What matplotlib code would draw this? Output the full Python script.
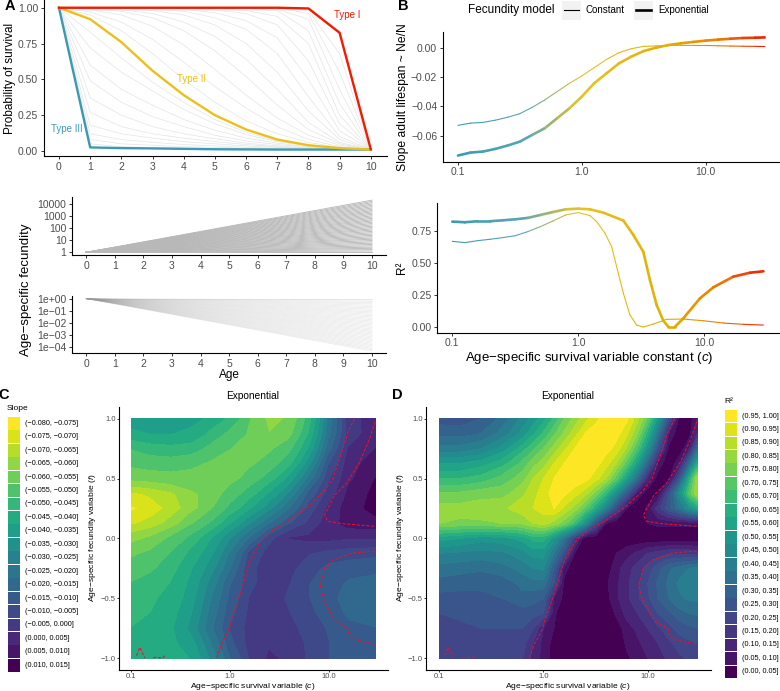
import numpy as np
import matplotlib
matplotlib.use("Agg")
import matplotlib.pyplot as plt
from matplotlib.collections import LineCollection
from matplotlib.colors import LinearSegmentedColormap
from matplotlib.patches import Rectangle

plt.rcParams['font.family'] = ['Liberation Sans', 'DejaVu Sans']
plt.rcParams['mathtext.fontset'] = 'custom'
plt.rcParams['mathtext.it'] = 'Liberation Sans:italic'
plt.rcParams['mathtext.rm'] = 'Liberation Sans'

W, H = 780, 691
TICK = '#4D4D4D'
TEAL, GOLD, RED = '#3B9AB2', '#EBC01A', '#F21A00'

# panel A, survival
ages = list(range(11))
type_1 = [1, 1, 1, 1, 1, 1, 1, 1, .995, .825, .012]
type_2 = [1, .92, .76, .56, .39, .25, .15, .08, .04, .02, .01]
type_3 = [1, .025, .02, .018, .015, .012, .011, .01, .01, .01, .01]
grey_curves = [
    [1, .05, .03, .025, .02, .018, .015, .012, .011, .01, .01],
    [1, .08, .05, .04, .03, .025, .02, .016, .013, .011, .01],
    [1, .12, .08, .06, .045, .035, .025, .02, .015, .012, .01],
    [1, .18, .12, .09, .065, .05, .035, .025, .018, .013, .01],
    [1, .27, .17, .12, .09, .065, .045, .03, .02, .014, .01],
    [1, .37, .25, .17, .12, .085, .055, .035, .022, .015, .01],
    [1, .49, .34, .24, .17, .11, .07, .045, .027, .016, .01],
    [1, .60, .43, .32, .22, .145, .09, .055, .03, .017, .01],
    [1, .72, .55, .42, .29, .19, .115, .065, .035, .018, .01],
    [1, .83, .65, .48, .34, .22, .13, .07, .038, .019, .01],
    [1, .95, .84, .68, .5, .34, .21, .12, .06, .025, .01],
    [1, .97, .9, .78, .62, .45, .3, .17, .08, .03, .01],
    [1, .985, .95, .87, .74, .57, .39, .23, .11, .04, .01],
    [1, .99, .975, .93, .84, .7, .52, .32, .15, .05, .01],
    [1, .995, .985, .96, .9, .8, .64, .43, .2, .06, .01],
    [1, 1, .995, .98, .95, .88, .75, .55, .28, .08, .01],
    [1, 1, 1, .99, .975, .93, .85, .68, .38, .1, .01],
    [1, 1, 1, .995, .99, .965, .91, .79, .5, .14, .01],
    [1, 1, 1, 1, .995, .985, .96, .88, .63, .19, .01],
    [1, 1, 1, 1, 1, .995, .98, .94, .75, .25, .01],
    [1, 1, 1, 1, 1, 1, .995, .98, .84, .33, .01],
    [1, 1, 1, 1, 1, 1, 1, .99, .92, .43, .01],
    [1, 1, 1, 1, 1, 1, 1, 1, .96, .55, .01],
    [1, 1, 1, 1, 1, 1, 1, 1, .98, .68, .01],
]

# panel A, fecundity: log10 of the value reached at age 10
fec_age = [0, 10]
fec_ends = [0, .11, .22, .33, .43, .54, .65, .76, .87, .98, 1.09, 1.19, 1.30, 1.41,
            1.52, 1.63, 1.74, 1.85, 1.95, 2.06, 2.17, 2.28, 2.39, 2.50, 2.61, 2.71,
            2.82, 2.93, 3.04, 3.15, 3.26, 3.37, 3.47, 3.58, 3.69, 3.80, 3.91, 4.02,
            4.13, 4.23, 4.34]

# panel B
log_c = [-1, -.9, -.8, -.7, -.6, -.5, -.4, -.3, -.2, -.1, 0, .1, .2, .3, .4, .5,
         .6, .7, .8, .9, 1.0, 1.1, 1.2, 1.3, 1.4, 1.477]
slope_const = [-.0530, -.0515, -.0510, -.0495, -.0475, -.0450, -.0407, -.0357, -.0300,
               -.0243, -.0193, -.0136, -.0080, -.0034, -.0007, .0009, .0012, .0015,
               .0016, .0015, .0015, .0013, .0011, .0010, .0009, .0008]
slope_exp = [-.0736, -.0716, -.0709, -.0691, -.0668, -.0641, -.0595, -.0550, -.0482,
             -.0414, -.0334, -.0243, -.0175, -.0107, -.0061, -.0023, 0, .0018, .0030,
             .0039, .0048, .0055, .0061, .0066, .0068, .0070]
r2c_logc = [-1, -.9, -.8, -.7, -.6, -.5, -.4, -.3, -.2, -.1, 0, .093, .146, .212, .265, .318,
            .358, .41, .463, .516, .596, .701, .834, .992, 1.151, 1.31, 1.469]
r2_const = [.669, .659, .674, .685, .698, .713, .745, .784, .828, .875, .893, .870, .823, .732,
            .627, .419, .263, .094, .015, .000, .023, .060, .062, .049, .031, .021, .015]
r2e_logc = [-1, -.9, -.8, -.7, -.6, -.5, -.4, -.3, -.2, -.1, 0, .093, .199, .358, .437, .516,
            .569, .622, .675, .715, .768, .834, .966, 1.072, 1.23, 1.363, 1.469]
r2_exp = [.823, .818, .826, .826, .833, .841, .852, .875, .898, .919, .924, .919, .893, .831,
          .719, .588, .367, .172, .049, .002, .002, .068, .224, .310, .393, .424, .435]

# panels C and D, read on these grids
grid_logc = [-1, -.8, -.6, -.4, -.2, 0, .2, .4, .6, .8, 1.0, 1.2, 1.477]
grid_f = [1, .875, .75, .625, .5, .375, .25, .125, 0, -.125, -.25, -.375, -.5, -.625, -.75, -.875, -1]
slope_grid = [
    [-.037, -.037, -.038, -.039, -.041, -.047, -.055, -.062, -.059, -.048, -.024, -.002, .003],
    [-.042, -.040, -.040, -.041, -.047, -.052, -.056, -.060, -.057, -.045, -.022, -.003, .004],
    [-.050, -.048, -.047, -.048, -.052, -.055, -.056, -.056, -.052, -.040, -.018, -.000, .005],
    [-.054, -.053, -.053, -.054, -.056, -.057, -.056, -.053, -.047, -.033, -.011, .003, .008],
    [-.059, -.058, -.057, -.057, -.056, -.057, -.053, -.048, -.039, -.024, -.006, .004, .010],
    [-.071, -.069, -.066, -.061, -.058, -.053, -.048, -.040, -.030, -.014, -.003, .006, .012],
    [-.076, -.073, -.068, -.062, -.056, -.049, -.041, -.032, -.021, -.008, .001, .008, .012],
    [-.071, -.068, -.063, -.056, -.050, -.041, -.031, -.021, -.011, -.004, .003, .007, .008],
    [-.062, -.059, -.054, -.049, -.041, -.031, -.020, -.007, .000, .001, .001, .000, -.000],
    [-.056, -.054, -.050, -.044, -.037, -.025, -.009, -.003, -.003, -.005, -.007, -.008, -.009],
    [-.053, -.051, -.047, -.041, -.033, -.021, -.006, -.003, -.004, -.008, -.012, -.013, -.014],
    [-.050, -.048, -.045, -.039, -.029, -.016, -.006, -.003, -.005, -.010, -.013, -.016, -.017],
    [-.047, -.046, -.043, -.038, -.026, -.014, -.005, -.003, -.006, -.010, -.014, -.017, -.019],
    [-.046, -.045, -.042, -.036, -.024, -.012, -.004, -.002, -.005, -.009, -.013, -.016, -.017],
    [-.045, -.044, -.041, -.034, -.022, -.010, -.003, -.001, -.004, -.007, -.011, -.014, -.015],
    [-.044, -.044, -.041, -.038, -.026, -.012, -.003, -.001, -.003, -.006, -.010, -.013, -.014],
    [-.044, -.044, -.042, -.040, -.030, -.016, -.005, .001, -.002, -.006, -.010, -.012, -.013],
]
r2_logc = [-1, -.8, -.6, -.4, -.2, -.1, 0, .1, .2, .3, .4, .5, .6, .7, .8, .9, 1.0, 1.1, 1.2, 1.3, 1.4, 1.477]
r2_grid = [
    [.28, .27, .30, .37, .47, .52, .58, .66, .75, .82, .88, .94, .97, .98, .96, .87, .74, .52, .27, .04, .02, .10],
    [.33, .33, .35, .42, .52, .59, .66, .74, .81, .88, .95, .97, .98, .97, .91, .80, .62, .38, .10, .01, .03, .15],
    [.42, .42, .45, .52, .63, .69, .75, .82, .89, .95, .98, .99, .97, .93, .84, .70, .50, .25, .04, .01, .10, .35],
    [.55, .55, .58, .63, .72, .78, .83, .90, .95, .98, .99, .97, .92, .85, .72, .55, .32, .08, .01, .08, .35, .60],
    [.65, .65, .67, .72, .78, .85, .90, .95, .98, .99, .97, .92, .85, .72, .56, .36, .12, .02, .02, .25, .62, .85],
    [.76, .76, .78, .78, .84, .88, .93, .97, .96, .92, .87, .78, .65, .47, .28, .08, .02, .04, .25, .48, .72, .85],
    [.82, .82, .83, .84, .88, .90, .92, .95, .89, .83, .73, .60, .43, .22, .05, .01, .06, .18, .28, .38, .50, .58],
    [.80, .79, .79, .80, .81, .85, .87, .83, .77, .67, .50, .25, .05, .01, .01, .05, .05, .06, .06, .06, .06, .06],
    [.57, .55, .52, .53, .57, .62, .62, .52, .38, .18, .01, .01, .01, .01, .01, .01, .01, .01, .01, .01, .01, .01],
    [.45, .44, .43, .44, .48, .52, .52, .40, .25, .05, .01, .01, .02, .05, .08, .11, .15, .17, .19, .19, .19, .18],
    [.38, .37, .36, .38, .42, .45, .46, .30, .07, .01, .01, .01, .02, .08, .13, .17, .22, .28, .34, .37, .40, .42],
    [.33, .32, .31, .32, .37, .38, .38, .25, .03, .01, .01, .01, .04, .09, .14, .19, .25, .31, .36, .41, .44, .44],
    [.28, .28, .29, .30, .33, .32, .30, .10, .03, .01, .01, .01, .03, .09, .14, .19, .24, .30, .35, .39, .41, .41],
    [.25, .26, .27, .27, .28, .27, .25, .06, .01, .01, .01, .01, .01, .06, .12, .15, .19, .25, .29, .33, .35, .36],
    [.23, .24, .25, .25, .25, .20, .10, .05, .01, .01, .01, .01, .01, .02, .08, .11, .15, .19, .23, .27, .29, .30],
    [.22, .22, .22, .23, .22, .15, .08, .03, .01, .01, .01, .01, .01, .01, .06, .09, .12, .15, .19, .22, .24, .25],
    [.22, .22, .22, .22, .20, .13, .08, .03, .01, .01, .01, .01, .01, .01, .04, .07, .10, .13, .16, .19, .21, .22],
]

# dashed red outlines, (log10 c, f)
outlines = [
    [(-.135, -1), (-.091, -.892), (-.007, -.753), (.027, -.642), (.078, -.531), (.139, -.364),
     (.196, -.197), (.264, -.086), (.332, -.003), (.433, .067), (.602, .15), (.805, .275),
     (.958, .4), (1.042, .497), (1.144, .747), (1.195, .886), (1.262, 1)],
    [(1.472, .975), (1.415, .831), (1.313, .636), (1.178, .456), (1.059, .358), (.992, .247),
     (.958, .192), (.992, .142), (1.144, .122), (1.472, .1)],
    [(1.472, -.106), (1.245, -.122), (1.042, -.183), (.958, -.253), (.914, -.392), (.958, -.531),
     (1.076, -.697), (1.195, -.753), (1.212, -.822), (1.279, -.85), (1.472, -.886)],
    [(-.948, -.981), (-.914, -.911), (-.893, -.947), (-.863, -1)],
    [(-.778, -1), (-.751, -.992), (-.684, -1), (-.66, -.98)],
]

slope_labels = ['(−0.080, −0.075]', '(−0.075, −0.070]', '(−0.070, −0.065]', '(−0.065, −0.060]',
                '(−0.060, −0.055]', '(−0.055, −0.050]', '(−0.050, −0.045]', '(−0.045, −0.040]',
                '(−0.040, −0.035]', '(−0.035, −0.030]', '(−0.030, −0.025]', '(−0.025, −0.020]',
                '(−0.020, −0.015]', '(−0.015, −0.010]', '(−0.010, −0.005]', '(−0.005, 0.000]',
                '(0.000, 0.005]', '(0.005, 0.010]', '(0.010, 0.015]']
r2_labels = ['(0.95, 1.00]', '(0.90, 0.95]', '(0.85, 0.90]', '(0.80, 0.85]', '(0.75, 0.80]',
             '(0.70, 0.75]', '(0.65, 0.70]', '(0.60, 0.65]', '(0.55, 0.60]', '(0.50, 0.55]',
             '(0.45, 0.50]', '(0.40, 0.45]', '(0.35, 0.40]', '(0.30, 0.35]', '(0.25, 0.30]',
             '(0.20, 0.25]', '(0.15, 0.20]', '(0.10, 0.15]', '(0.05, 0.10]', '(0.00, 0.05]']


fig = plt.figure(figsize=(W / 100, H / 100), dpi=100)


def add_ax(left, top, right, bottom):
    ax = fig.add_axes([left / W, 1 - bottom / H, (right - left) / W, (bottom - top) / H])
    ax.spines[['top', 'right']].set_visible(False)
    ax.spines[['left', 'bottom']].set_linewidth(0.8)
    ax.patch.set_alpha(0)
    return ax


def style(ax, size):
    ax.tick_params(labelsize=size, labelcolor=TICK, length=2.5, width=0.7, pad=1.5, color='#333333')


# A top
ax = add_ax(43.7, 0, 387, 156)
for s in grey_curves:
    ax.plot(ages, s, color='#e4e4e4', lw=0.5)
ax.plot(ages, type_3, color=TEAL, lw=1.7)
ax.plot(ages, type_2, color=GOLD, lw=1.7)
ax.plot(ages, type_1, color=RED, lw=1.7)
ax.text(9.24, .95, 'Type I', color=RED, fontsize=7, ha='center', va='center')
ax.text(4.24, .50, 'Type II', color=GOLD, fontsize=7, ha='center', va='center')
ax.text(.25, .15, 'Type III', color=TEAL, fontsize=7, ha='center', va='center')
ax.set_xlim(-.49, 10.52)
ax.set_ylim(-.035, 1.054)
ax.set_xticks(ages)
ax.set_yticks([0, .25, .5, .75, 1], ['0.00', '0.25', '0.50', '0.75', '1.00'])
style(ax, 7.5)

# A fecundity
ax = add_ax(72, 197, 386, 255)
for e in fec_ends:
    ax.plot(fec_age, [1, 10 ** e], color='#b8b8b8', lw=0.65)
ax.set_yscale('log')
ax.set_xlim(-.5, 10.49)
ax.set_ylim(10 ** -.225, 10 ** 4.6)
ax.set_xticks(ages)
ax.set_yticks([1, 10, 100, 1000, 10000], ['1', '10', '100', '1000', '10000'])
ax.minorticks_off()
style(ax, 7.5)

ax = add_ax(72, 296, 386, 353)
for e in fec_ends:
    ax.plot(fec_age, [1, 10 ** -e], color='#999999', lw=0.5, alpha=0.22)
ax.set_yscale('log')
ax.set_xlim(-.5, 10.49)
ax.set_ylim(10 ** -4.5, 10 ** .22)
ax.set_xticks(ages)
ax.set_yticks([1, .1, .01, .001, .0001], ['1e+00', '1e−01', '1e−02', '1e−03', '1e−04'])
ax.minorticks_off()
style(ax, 7.5)

# B, colour follows c
zissou = LinearSegmentedColormap.from_list('zissou', [
    (0, TEAL), (.22, '#5AA5B5'), (.40, '#E6C42A'), (.7, '#E1AF00'), (.86, '#EE7A00'), (1, RED)])


def grad_line(ax, lc_x, vals, lw):
    lc_x = np.array(lc_x)
    pts = np.column_stack([10 ** lc_x, vals])
    segs = np.stack([pts[:-1], pts[1:]], axis=1)
    mids = (lc_x[:-1] + lc_x[1:]) / 2
    lc = LineCollection(segs, colors=zissou((mids + 1) / 2.477), linewidths=lw, capstyle='round')
    ax.add_collection(lc)


ax = add_ax(442.7, 32, 779, 161.7)
grad_line(ax, log_c, slope_const, 0.8)
grad_line(ax, log_c, slope_exp, 1.9)
ax.set_xscale('log')
ax.set_xlim(10 ** -1.1235, 10 ** 1.593)
ax.set_ylim(-.0778, .0107)
ax.set_xticks([.1, 1, 10], ['0.1', '1.0', '10.0'])
ax.minorticks_off()
ax.set_yticks([-.06, -.04, -.02, 0], ['−0.06', '−0.04', '−0.02', '0.00'])
style(ax, 7.5)

ax = add_ax(437, 203.3, 779, 332.7)
grad_line(ax, r2c_logc, r2_const, 0.8)
grad_line(ax, r2e_logc, r2_exp, 1.9)
ax.set_xscale('log')
ax.set_xlim(10 ** -1.121, 10 ** 1.593)
ax.set_ylim(-.0445, .966)
ax.set_xticks([.1, 1, 10], ['0.1', '1.0', '10.0'])
ax.minorticks_off()
ax.set_yticks([0, .25, .5, .75], ['0.00', '0.25', '0.50', '0.75'])
style(ax, 7.5)


# C and D
def heat(box, xlim, gx, grid, levels, colors):
    ax = add_ax(*box)
    ax.set_xscale('log')
    ax.contourf(10 ** np.array(gx), grid_f, grid, levels=levels, colors=colors)
    for o in outlines:
        o = np.array(o)
        ax.plot(10 ** o[:, 0], o[:, 1], color='#E8112D', lw=0.75, ls=(0, (3, 1.6)))
    ax.set_xlim(10 ** xlim[0], 10 ** xlim[1])
    ax.set_ylim(-1.1, 1.1)
    ax.set_xticks([.1, 1, 10], ['0.1', '1.0', '10.0'])
    ax.minorticks_off()
    ax.set_yticks([-1, -.5, 0, .5, 1], ['−1.0', '−0.5', '0.0', '0.5', '1.0'])
    style(ax, 5.5)
    ax.tick_params(length=1.5, pad=0.8)


slope_cols = plt.cm.viridis(np.linspace(0, 1, 19))[::-1]
r2_cols = plt.cm.viridis(np.linspace(0, 1, 20))
heat((119.3, 406.7, 387.7, 670), (-1.122, 1.599), grid_logc, slope_grid,
     np.arange(-.08, .0151, .005), slope_cols)
heat((426, 406.7, 710.7, 670), (-1.128, 1.606), r2_logc, r2_grid,
     np.arange(0, 1.001, .05), r2_cols)

# overlay in pixels for labels and legends
ov = fig.add_axes([0, 0, 1, 1], zorder=10)
ov.set_xlim(0, W)
ov.set_ylim(H, 0)
ov.axis('off')


def txt(x, y, s, size, **kw):
    kw.setdefault('ha', 'center')
    kw.setdefault('va', 'center')
    ov.text(x, y, s, fontsize=size, **kw)


for x, y, s in [(10, 6, 'A'), (403, 6, 'B'), (4, 395, 'C'), (397, 395, 'D')]:
    txt(x, y, s, 10.5, fontweight='bold')

txt(10, 78, 'Probability of survival', 8.5, rotation=90)
txt(26, 290, 'Age−specific fecundity', 9.5, rotation=90)
txt(229, 375, 'Age', 8.5)
txt(402.7, 96.7, 'Slope adult lifespan ~ Ne/N', 8.7, rotation=90)
txt(402, 268, 'R²', 8.5, rotation=90)
txt(589, 358, r'Age−specific survival variable constant ($\mathit{c}$)', 9.5)

txt(253, 396, 'Exponential', 7.3)
txt(568, 396, 'Exponential', 7.3)
txt(253, 686.5, r'Age−specific survival variable ($\mathit{c}$)', 6.1)
txt(568, 686.5, r'Age−specific survival variable ($\mathit{c}$)', 6.1)
txt(93, 538, r'Age−specific fecundity variable ($\mathit{f}$)', 6.1, rotation=90)
txt(400, 538, r'Age−specific fecundity variable ($\mathit{f}$)', 6.1, rotation=90)

# fecundity legend
txt(468, 10, 'Fecundity model', 8.5, ha='left')
for x, lw, lab, tx in [(571, .8, 'Constant', 586), (643, 1.9, 'Exponential', 658)]:
    ov.add_patch(Rectangle((x - 9.5, 1), 19, 18.5, fc='#F2F2F2', ec='none'))
    ov.plot([x - 7.5, x + 7.5], [10.3, 10.3], color='black', lw=lw)
    txt(tx, 10.3, lab, 7, ha='left')

# discrete legends
txt(7, 408, 'Slope', 6, ha='left')
for i, lab in enumerate(slope_labels):
    y = 423.3 + i * 13.44
    ov.add_patch(Rectangle((7.5, y - 6.4), 12.5, 12.8, fc=slope_cols[i], ec='none'))
    txt(25, y, lab, 5.2, ha='left')

txt(724, 401.5, 'R²', 6, ha='left')
for i, lab in enumerate(r2_labels):
    y = 416 + i * 13.47
    ov.add_patch(Rectangle((724.5, y - 6.4), 12.5, 12.8, fc=r2_cols[::-1][i], ec='none'))
    txt(741.7, y, lab, 5.2, ha='left')

fig.savefig('out.png', dpi=100)
